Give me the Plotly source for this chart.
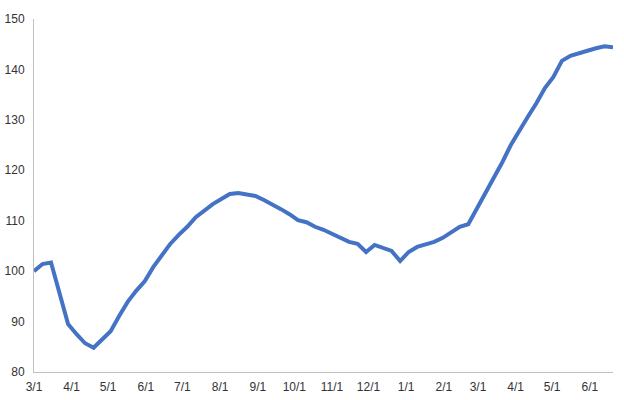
import plotly.graph_objects as go
import pandas as pd

start_date = "2009-03-01"
values = [100.0, 101.4, 101.7, 95.6, 89.5, 87.5, 85.7, 84.8, 86.5, 88.1,
          91.1, 93.9, 96.1, 98.0, 100.8, 103.2, 105.4, 107.2, 108.8, 110.7,
          112.1, 113.3, 114.3, 115.3, 115.5, 115.3, 114.9, 114.1, 113.3, 112.3,
          111.3, 110.1, 109.7, 108.8, 108.2, 107.4, 106.4, 105.8, 105.4, 103.8,
          105.2, 104.6, 104.0, 102.0, 103.8, 104.8, 105.2, 105.8, 106.6, 107.8,
          108.8, 109.3, 112.3, 115.7, 118.5, 121.6, 125.0, 128.0, 130.6, 133.3,
          136.3, 138.5, 141.7, 142.7, 143.3, 143.7, 144.2, 144.6, 144.4]
dates = pd.date_range(start_date, periods=len(values), freq="7D")
y_ticks = [80, 90, 100, 110, 120, 130, 140, 150]

fig = go.Figure()
fig.add_trace(go.Scatter(x=dates, y=values, mode="lines",
                         line=dict(color="#4472C4", width=4)))

fig.update_layout(
    width=624, height=400,
    margin=dict(l=34, r=11, t=19, b=28, autoexpand=False),
    plot_bgcolor="white", paper_bgcolor="white",
    showlegend=False,
    font=dict(family="Liberation Sans", size=12, color="#333333"),
)
fig.update_xaxes(range=[dates[0], dates[-1]], dtick="M1", tick0=start_date,
                 tickformat="%-m/%-d", showgrid=False, showline=True,
                 linecolor="#BFBFBF", linewidth=1, ticks="", zeroline=False,
                 automargin=False, ticklabelstandoff=4)
fig.update_yaxes(range=[80, 150], tickvals=y_ticks, showgrid=False,
                 showline=True, linecolor="#BFBFBF", linewidth=1, ticks="",
                 zeroline=False, ticklabelstandoff=6, automargin=False)

fig.write_html("out.html", config={"displayModeBar": False},
               post_script="document.body.style.margin='0';document.body.style.overflow='hidden';")
